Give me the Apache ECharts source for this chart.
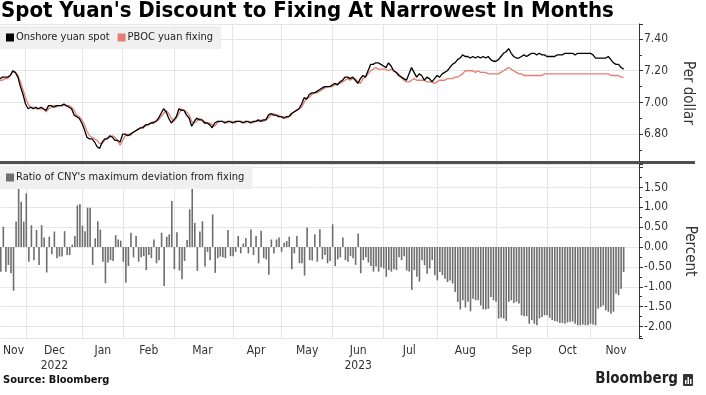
<!DOCTYPE html>
<html><head><meta charset="utf-8">
<script src="https://cdn.jsdelivr.net/npm/echarts@6/dist/echarts.min.js"></script>
<style>html,body{margin:0;padding:0;background:#fff}#c{width:706px;height:395px}</style>
</head><body><div id="c"></div>
<script>
// ---- Calendar (onshore trading days) ----
const startDay = [2022, 10, 17];   // 17 Nov 2022
const endDay = [2023, 10, 28];     // 28 Nov 2023 (axis end)
const holidays = ['2023-01-02','2023-01-23','2023-01-24','2023-01-25','2023-01-26','2023-01-27',
  '2023-04-05','2023-05-01','2023-05-02','2023-05-03','2023-06-22','2023-06-23',
  '2023-09-29','2023-10-02','2023-10-03','2023-10-04','2023-10-05','2023-10-06'];
const monthLabels = ['Nov','Dec\n2022','Jan','Feb','Mar','Apr','May','Jun\n2023','Jul','Aug','Sep','Oct','Nov'];
const topTickLabels = ['6.80','7.00','7.20','7.40'];
const bottomTickLabels = ['1.50','1.00','0.50','0.00','-0.50','-1.00','-1.50','-2.00'];

// ---- Series (per trading day, from 17 Nov 2022) ----
const spot = [
7.15,7.16,7.16,7.16,7.17,7.20,7.19,7.16,7.10,7.05,
6.99,6.96,6.97,6.96,6.97,6.96,6.97,6.96,6.95,6.98,
6.98,6.97,6.98,6.98,6.98,6.99,6.98,6.97,6.96,6.92,
6.91,6.90,6.87,6.83,6.78,6.77,6.77,6.75,6.72,6.71,
6.75,6.77,6.77,6.79,6.78,6.76,6.76,6.75,6.80,6.80,
6.79,6.80,6.81,6.82,6.83,6.84,6.84,6.86,6.86,6.87,
6.87,6.88,6.90,6.93,6.96,6.94,6.90,6.87,6.89,6.91,
6.96,6.95,6.95,6.92,6.90,6.85,6.88,6.90,6.89,6.89,
6.87,6.87,6.86,6.84,6.87,6.88,6.88,6.88,6.87,6.88,
6.88,6.87,6.88,6.88,6.88,6.87,6.88,6.88,6.87,6.88,
6.88,6.89,6.88,6.89,6.89,6.92,6.93,6.92,6.92,6.91,
6.91,6.90,6.91,6.91,6.93,6.94,6.95,6.96,6.99,7.03,
7.02,7.05,7.06,7.06,7.07,7.08,7.09,7.10,7.10,7.10,
7.11,7.12,7.11,7.13,7.14,7.16,7.16,7.15,7.16,7.14,
7.12,7.15,7.17,7.16,7.20,7.24,7.24,7.25,7.25,7.24,
7.23,7.22,7.25,7.23,7.20,7.19,7.17,7.16,7.15,7.14,
7.18,7.22,7.19,7.16,7.18,7.17,7.14,7.16,7.15,7.13,
7.15,7.17,7.16,7.18,7.19,7.20,7.22,7.24,7.25,7.27,
7.28,7.30,7.29,7.29,7.28,7.29,7.28,7.29,7.28,7.29,
7.28,7.29,7.27,7.26,7.26,7.27,7.29,7.31,7.32,7.34,
7.31,7.29,7.28,7.28,7.29,7.30,7.29,7.30,7.31,7.31,
7.30,7.31,7.30,7.30,7.29,7.29,7.29,7.29,7.30,7.30,
7.30,7.31,7.31,7.31,7.31,7.30,7.31,7.31,7.31,7.31,
7.31,7.31,7.30,7.28,7.28,7.28,7.28,7.28,7.29,7.27,
7.25,7.24,7.24,7.22,7.21];
const fixing = [
7.14,7.14,7.15,7.15,7.17,7.19,7.19,7.17,7.13,7.08,
7.03,6.99,6.97,6.97,6.96,6.96,6.96,6.96,6.94,6.96,
6.97,6.98,6.97,6.98,6.98,6.98,6.98,6.98,6.97,6.95,
6.92,6.91,6.89,6.86,6.82,6.79,6.78,6.77,6.76,6.74,
6.74,6.76,6.78,6.78,6.79,6.78,6.76,6.73,6.76,6.79,
6.80,6.79,6.81,6.82,6.83,6.84,6.85,6.85,6.86,6.87,
6.88,6.88,6.89,6.91,6.93,6.95,6.93,6.90,6.88,6.90,
6.93,6.96,6.95,6.94,6.92,6.88,6.87,6.88,6.90,6.89,
6.88,6.87,6.87,6.86,6.85,6.87,6.88,6.88,6.88,6.87,
6.88,6.88,6.87,6.88,6.88,6.88,6.87,6.88,6.88,6.87,
6.88,6.88,6.89,6.88,6.89,6.90,6.92,6.93,6.92,6.92,
6.91,6.91,6.90,6.91,6.92,6.94,6.95,6.96,6.97,7.00,
7.03,7.03,7.05,7.06,7.06,7.07,7.08,7.09,7.10,7.10,
7.10,7.11,7.12,7.12,7.13,7.14,7.15,7.14,7.15,7.15,
7.13,7.12,7.15,7.16,7.18,7.20,7.21,7.22,7.21,7.21,
7.21,7.21,7.20,7.21,7.20,7.19,7.18,7.16,7.14,7.13,
7.13,7.14,7.15,7.14,7.14,7.14,7.14,7.13,7.13,7.13,
7.12,7.13,7.14,7.14,7.14,7.15,7.15,7.15,7.16,7.16,
7.17,7.18,7.20,7.20,7.20,7.20,7.19,7.20,7.19,7.19,
7.19,7.18,7.18,7.18,7.18,7.18,7.19,7.20,7.21,7.22,
7.21,7.20,7.19,7.18,7.18,7.17,7.17,7.17,7.17,7.17,
7.17,7.17,7.17,7.18,7.18,7.18,7.18,7.18,7.18,7.18,
7.18,7.18,7.18,7.18,7.18,7.18,7.18,7.18,7.18,7.18,
7.18,7.18,7.18,7.18,7.18,7.18,7.18,7.18,7.18,7.17,
7.17,7.17,7.17,7.16,7.16];
const ratio = [
-0.62,0.51,-0.62,-0.45,-0.66,-1.10,0.64,1.52,1.14,0.64,
1.35,-0.37,0.55,-0.33,0.43,-0.45,0.55,0.24,-0.64,0.26,
-0.18,0.39,-0.28,-0.24,-0.24,0.40,-0.20,-0.20,0.06,0.28,
1.05,1.08,0.54,0.40,0.99,0.99,-0.45,0.22,0.65,0.44,
-0.37,-0.91,-0.39,-0.33,-0.35,0.30,0.19,0.16,-0.37,-0.90,
-0.48,0.36,-0.26,0.28,-0.37,-0.26,-0.23,-0.58,-0.20,-0.28,
0.19,-0.41,-0.33,0.36,-0.98,0.26,0.32,1.16,-0.56,0.37,
-0.59,-0.81,-0.35,0.18,0.95,1.47,0.61,-0.60,0.39,0.65,
-0.49,-0.12,-0.33,0.82,-0.65,
-0.28,-0.24,-0.26,-0.28,0.43,-0.23,-0.23,-0.12,0.28,-0.16,
0.09,0.23,-0.16,0.44,-0.20,0.28,-0.41,0.41,-0.28,-0.31,
-0.70,0.19,-0.16,0.19,0.24,-0.12,0.11,0.15,0.26,-0.56,
-0.16,0.28,-0.41,-0.41,-0.72,0.49,-0.33,-0.34,0.32,-0.37,
0.45,-0.31,-0.20,-0.41,-0.35,0.57,-0.48,-0.31,-0.26,0.24,
-0.33,-0.37,-0.23,-0.28,-0.45,0.34,-0.66,-0.33,-0.26,-0.39,
-0.48,-0.62,-0.49,-0.62,-0.51,-0.54,-0.75,-0.58,-0.62,-0.56,
-0.58,-0.26,-0.33,-0.23,-0.59,-0.62,-1.08,-0.58,-0.75,-0.87,
-0.33,
-0.46,-0.67,-0.54,-0.33,-0.71,-0.84,-0.63,-0.71,-0.80,-0.88,
-0.84,-0.92,-1.13,-1.38,-1.57,-1.34,-1.52,-1.38,-1.62,-1.30,
-1.34,-1.34,-1.47,-1.57,-1.57,-1.55,-1.26,-1.34,-1.38,-1.80,
-1.78,-1.80,-1.86,-1.38,-1.34,-1.41,-1.38,-1.42,-1.72,-1.74,
-1.74,-1.93,-1.84,-1.93,-1.97,-1.80,-1.76,-1.72,-1.72,-1.78,
-1.84,-1.86,-1.88,-1.91,-1.91,-1.93,-1.90,-1.88,-1.88,-1.93,
-1.97,-1.97,-1.95,-1.97,-1.97,-1.93,-1.95,-1.97,-1.55,-1.51,
-1.47,-1.59,-1.63,-1.68,-1.63,-1.17,-1.21,-1.05,-0.63];

// ---- Build trading-day categories ----
function buildDays() {
  const out = [];
  const d = new Date(Date.UTC(startDay[0], startDay[1], startDay[2]));
  const end = Date.UTC(endDay[0], endDay[1], endDay[2]);
  while (d.getTime() <= end) {
    const s = d.toISOString().slice(0, 10);
    const wd = d.getUTCDay();
    if (wd !== 0 && wd !== 6 && holidays.indexOf(s) < 0) out.push(s);
    d.setUTCDate(d.getUTCDate() + 1);
  }
  return out;
}
const dates = buildDays();
const monthStarts = new Set();
const groups = [];
dates.forEach((s, i) => {
  const m = s.slice(0, 7);
  if (!groups.length || groups[groups.length - 1].m !== m) {
    groups.push({ m, first: i, last: i });
    if (i > 0) monthStarts.add(i);
  } else groups[groups.length - 1].last = i;
});
const labelAt = {};
groups.forEach((g, k) => { labelAt[Math.round((g.first + g.last) / 2)] = monthLabels[k]; });

const FONT = "'DejaVu Sans Condensed','Liberation Sans Narrow','Arial Narrow','DejaVu Sans',sans-serif";
const GRID_COLOR = '#e6e6e6';
const AXIS_COLOR = '#333';

const chart = echarts.init(document.getElementById('c'), null, { renderer: 'canvas' });
chart.setOption({
  animation: false,
  backgroundColor: '#fff',
  textStyle: { fontFamily: FONT },
  title: {
    text: "Spot Yuan's Discount to Fixing At Narrowest In Months",
    left: 1, top: 0, padding: 0,
    textStyle: { fontFamily: FONT, fontSize: 22, fontWeight: 'bold', color: '#000' }
  },
  legend: [
    { data: ['Onshore yuan spot', 'PBOC yuan fixing'], left: 0, top: 26,
      backgroundColor: '#f0f0f0', padding: [6, 8, 6, 6], itemWidth: 8, itemHeight: 8, itemGap: 8,
      icon: 'rect', textStyle: { fontFamily: FONT, fontSize: 11, color: '#222', padding: [0, 0, 0, -3] } },
    { data: ["Ratio of CNY's maximum deviation from fixing"], left: 0, top: 166,
      backgroundColor: '#f0f0f0', padding: [6, 8, 6, 6], itemWidth: 8, itemHeight: 8,
      icon: 'rect', textStyle: { fontFamily: FONT, fontSize: 11, color: '#222', padding: [0, 0, 0, -3] } }
  ],
  grid: [
    { left: 0, right: 67, top: 24, height: 138 },
    { left: 0, right: 67, top: 164, height: 174 }
  ],
  xAxis: [
    { type: 'category', gridIndex: 0, data: dates, boundaryGap: false,
      axisLine: { show: false }, axisTick: { show: false }, axisLabel: { show: false },
      splitLine: { show: true, interval: (i) => monthStarts.has(i), lineStyle: { color: GRID_COLOR, width: 1 } } },
    { type: 'category', gridIndex: 1, data: dates, boundaryGap: false,
      axisLine: { show: false }, axisTick: { show: false },
      axisLabel: { show: true, interval: (i) => labelAt[i] !== undefined, formatter: (v, i) => labelAt[i] || '',
        fontFamily: FONT, fontSize: 12, color: '#333', lineHeight: 15, margin: 5 },
      splitLine: { show: true, interval: (i) => monthStarts.has(i), lineStyle: { color: GRID_COLOR, width: 1 } } }
  ],
  yAxis: [
    { type: 'value', gridIndex: 0, position: 'right', min: 6.624, max: 7.495, splitNumber: 4,
      name: 'Per dollar', nameLocation: 'middle', nameRotate: -90, nameGap: 41,
      nameTextStyle: { fontFamily: FONT, fontSize: 15, color: '#333' },
      axisLine: { show: true, lineStyle: { color: AXIS_COLOR, width: 1 } },
      axisTick: { show: true, inside: false, length: 4, lineStyle: { color: AXIS_COLOR } },
      minorTick: { show: true, splitNumber: 2, length: 3, lineStyle: { color: AXIS_COLOR } },
      axisLabel: { showMinLabel: false, showMaxLabel: false, margin: 5, fontFamily: FONT, fontSize: 12, color: '#333',
        formatter: (v) => { const s = v.toFixed(2); return topTickLabels.indexOf(s) >= 0 ? s : ''; } },
      splitLine: { show: true, lineStyle: { color: GRID_COLOR } } },
    { type: 'value', gridIndex: 1, position: 'right', min: -2.29, max: 2.09, splitNumber: 9,
      name: 'Percent', nameLocation: 'middle', nameRotate: -90, nameGap: 41,
      nameTextStyle: { fontFamily: FONT, fontSize: 15, color: '#333' },
      axisLine: { show: true, lineStyle: { color: AXIS_COLOR, width: 1 } },
      axisTick: { show: true, inside: false, length: 4, lineStyle: { color: AXIS_COLOR } },
      minorTick: { show: true, splitNumber: 2, length: 3, lineStyle: { color: AXIS_COLOR } },
      axisLabel: { showMinLabel: false, showMaxLabel: false, margin: 5, fontFamily: FONT, fontSize: 12, color: '#333',
        formatter: (v) => { const s = v.toFixed(2); return bottomTickLabels.indexOf(s) >= 0 ? s : ''; } },
      splitLine: { show: true, lineStyle: { color: GRID_COLOR } } }
  ],
  series: [
    { name: 'PBOC yuan fixing', type: 'line', xAxisIndex: 0, yAxisIndex: 0, data: fixing,
      showSymbol: false, symbol: 'none', color: '#e57d74', lineStyle: { width: 1.3, color: '#e57d74' } },
    { name: 'Onshore yuan spot', type: 'line', xAxisIndex: 0, yAxisIndex: 0, data: spot,
      showSymbol: false, symbol: 'none', color: '#000', lineStyle: { width: 1.3, color: '#000' } },
    { name: "Ratio of CNY's maximum deviation from fixing", type: 'bar', xAxisIndex: 1, yAxisIndex: 1,
      data: ratio, barWidth: 1.6, color: '#6e6e6e', itemStyle: { color: '#6e6e6e' } }
  ],
  graphic: [
    { type: 'rect', shape: { x: 0, y: 161, width: 695, height: 3 }, style: { fill: '#505050' }, z: 100 },
    { type: 'text', left: 3, top: 375, style: { text: 'Source: Bloomberg', font: "bold 11px " + FONT, fill: '#111' } },
    { type: 'text', right: 28, top: 372, style: { text: 'Bloomberg', font: "bold 15px " + FONT, fill: '#222' } },
    { type: 'rect', shape: { x: 683, y: 374, width: 10, height: 12, r: 1 }, style: { fill: '#333' } },
    { type: 'rect', shape: { x: 685, y: 380, width: 1.5, height: 4 }, style: { fill: '#fff' } },
    { type: 'rect', shape: { x: 687.5, y: 377, width: 1.5, height: 7 }, style: { fill: '#fff' } },
    { type: 'rect', shape: { x: 690, y: 379, width: 1.5, height: 5 }, style: { fill: '#fff' } }
  ]
});
</script></body></html>
